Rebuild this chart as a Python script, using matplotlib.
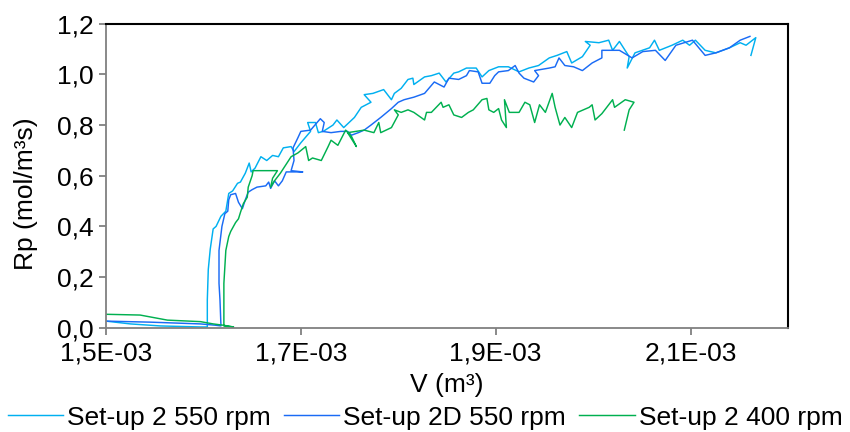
import numpy as np
import matplotlib
matplotlib.use("Agg")
import matplotlib.pyplot as plt
from matplotlib.ticker import FuncFormatter, FixedLocator, MultipleLocator

plt.rcParams['font.family'] = ['Liberation Sans', 'DejaVu Sans']

# Volumen en litros (1E-03 m3) y Rp en mol/m3s
v_2_550 = [1.500, 1.525, 1.556, 1.597, 1.604, 1.604, 1.605, 1.607, 1.610, 1.613,
           1.618, 1.623, 1.626, 1.630, 1.635, 1.638, 1.643, 1.647, 1.649, 1.653,
           1.659, 1.665, 1.671, 1.677, 1.682, 1.690, 1.693, 1.700, 1.710, 1.707,
           1.715, 1.718, 1.723, 1.733, 1.737, 1.744, 1.755, 1.762, 1.772, 1.765,
           1.774, 1.785, 1.793, 1.796, 1.803, 1.810, 1.815, 1.816, 1.827, 1.834,
           1.842, 1.849, 1.857, 1.862, 1.870, 1.880, 1.886, 1.893, 1.903, 1.913,
           1.924, 1.934, 1.944, 1.955, 1.963, 1.973, 1.978, 1.989, 1.997, 1.992,
           2.006, 2.016, 2.020, 2.027, 2.037, 2.035, 2.043, 2.058, 2.063, 2.068,
           2.081, 2.092, 2.099, 2.105, 2.115, 2.126, 2.140, 2.151, 2.157, 2.167,
           2.162]
rp_2_550 = [0.026, 0.015, 0.007, 0.003, 0.003, 0.110, 0.230, 0.310, 0.390, 0.400,
            0.440, 0.460, 0.530, 0.540, 0.570, 0.575, 0.610, 0.650, 0.615, 0.630,
            0.675, 0.660, 0.680, 0.675, 0.710, 0.715, 0.695, 0.730, 0.775, 0.810,
            0.810, 0.770, 0.775, 0.800, 0.820, 0.790, 0.830, 0.870, 0.890, 0.920,
            0.925, 0.940, 0.900, 0.925, 0.945, 0.980, 0.985, 0.960, 0.990, 0.995,
            1.005, 0.970, 1.005, 1.010, 1.025, 1.025, 0.990, 1.015, 1.030, 1.030,
            1.010, 1.025, 1.035, 1.065, 1.075, 1.090, 1.045, 1.070, 1.115, 1.130,
            1.125, 1.135, 1.095, 1.130, 1.070, 1.025, 1.085, 1.105, 1.135, 1.095,
            1.115, 1.135, 1.115, 1.135, 1.095, 1.085, 1.105, 1.125, 1.115, 1.145,
            1.075]

v_2d_550 = [1.500, 1.545, 1.597, 1.612, 1.618, 1.617, 1.616, 1.616, 1.619, 1.622,
            1.625, 1.626, 1.628, 1.633, 1.636, 1.640, 1.643, 1.646, 1.650, 1.655,
            1.664, 1.667, 1.669, 1.673, 1.677, 1.681, 1.685, 1.702, 1.690, 1.693,
            1.692, 1.697, 1.700, 1.710, 1.720, 1.724, 1.722, 1.731, 1.741, 1.748,
            1.752, 1.759, 1.765, 1.772, 1.782, 1.793, 1.800, 1.806, 1.816, 1.827,
            1.837, 1.847, 1.852, 1.862, 1.870, 1.873, 1.882, 1.886, 1.894, 1.899,
            1.903, 1.913, 1.920, 1.924, 1.929, 1.939, 1.944, 1.940, 1.955, 1.961,
            1.965, 1.971, 1.980, 1.989, 1.999, 2.009, 2.009, 2.027, 2.040, 2.051,
            2.064, 2.074, 2.085, 2.102, 2.115, 2.126, 2.140, 2.151, 2.161]
rp_2d_550 = [0.026, 0.022, 0.015, 0.010, 0.007, 0.110, 0.175, 0.305, 0.400, 0.450,
             0.460, 0.505, 0.525, 0.530, 0.495, 0.470, 0.505, 0.535, 0.545, 0.555,
             0.560, 0.575, 0.550, 0.580, 0.560, 0.580, 0.615, 0.615, 0.620, 0.660,
             0.710, 0.750, 0.775, 0.780, 0.825, 0.810, 0.775, 0.770, 0.775, 0.775,
             0.760, 0.770, 0.780, 0.800, 0.830, 0.865, 0.890, 0.900, 0.910, 0.925,
             0.970, 0.950, 0.985, 0.980, 0.995, 1.015, 1.010, 0.965, 0.965, 0.995,
             1.010, 1.015, 1.035, 1.005, 0.985, 0.970, 0.995, 1.015, 1.025, 1.030,
             1.065, 1.035, 1.030, 1.015, 1.045, 1.065, 1.095, 1.095, 1.065, 1.090,
             1.095, 1.055, 1.115, 1.135, 1.075, 1.085, 1.105, 1.135, 1.150]

v_2_400 = [1.500, 1.535, 1.563, 1.597, 1.610, 1.620, 1.631, 1.621, 1.621, 1.623,
           1.626, 1.628, 1.633, 1.636, 1.638, 1.641, 1.645, 1.646, 1.650, 1.651,
           1.676, 1.671, 1.669, 1.673, 1.679, 1.690, 1.697, 1.705, 1.708, 1.712,
           1.721, 1.728, 1.731, 1.738, 1.746, 1.752, 1.757, 1.748, 1.765, 1.775,
           1.780, 1.782, 1.793, 1.800, 1.796, 1.803, 1.810, 1.816, 1.827, 1.829,
           1.834, 1.844, 1.846, 1.852, 1.857, 1.865, 1.872, 1.877, 1.886, 1.891,
           1.893, 1.898, 1.903, 1.906, 1.911, 1.909, 1.914, 1.924, 1.930, 1.935,
           1.940, 1.945, 1.951, 1.958, 1.961, 1.966, 1.971, 1.978, 1.984, 1.996,
           1.999, 2.002, 2.009, 2.020, 2.022, 2.033, 2.042, 2.037, 2.032]
rp_2_400 = [0.053, 0.050, 0.030, 0.024, 0.015, 0.010, 0.003, 0.007, 0.175, 0.305,
            0.360, 0.380, 0.415, 0.430, 0.455, 0.490, 0.515, 0.555, 0.600, 0.620,
            0.620, 0.590, 0.555, 0.580, 0.610, 0.675, 0.690, 0.715, 0.660, 0.670,
            0.660, 0.715, 0.740, 0.720, 0.780, 0.755, 0.715, 0.770, 0.780, 0.770,
            0.810, 0.770, 0.790, 0.840, 0.860, 0.850, 0.860, 0.850, 0.820, 0.850,
            0.850, 0.890, 0.870, 0.880, 0.840, 0.830, 0.850, 0.860, 0.900, 0.905,
            0.860, 0.850, 0.865, 0.820, 0.790, 0.900, 0.850, 0.850, 0.890, 0.880,
            0.810, 0.880, 0.850, 0.925, 0.870, 0.800, 0.830, 0.790, 0.850, 0.870,
            0.880, 0.820, 0.845, 0.900, 0.870, 0.900, 0.890, 0.860, 0.780]

x_ticks = [1.5e-3, 1.7e-3, 1.9e-3, 2.1e-3]

series = [
    ("Set-up 2 550 rpm", v_2_550, rp_2_550, "#00B0F0"),
    ("Set-up 2D 550 rpm", v_2d_550, rp_2d_550, "#1A6BF5"),
    ("Set-up 2 400 rpm", v_2_400, rp_2_400, "#00B050"),
]

fig = plt.figure(figsize=(8.5, 4.32), dpi=100)
ax = fig.add_axes([0.1247, 0.2414, 0.8023, 0.7037])

for nombre, v, rp, color in series:
    ax.plot(np.array(v) / 1000, rp, color=color, lw=1.05, label=nombre)

ax.set_xlim(1.5e-3, 2.2e-3)
ax.set_ylim(0, 1.2)
ax.xaxis.set_major_locator(FixedLocator(x_ticks))
ax.xaxis.set_major_formatter(FuncFormatter(lambda x, pos: f"{x * 1e3:.1f}E-03".replace(".", ",")))
ax.yaxis.set_major_locator(MultipleLocator(0.2))
ax.yaxis.set_major_formatter(FuncFormatter(lambda y, pos: f"{y:.1f}".replace(".", ",")))

fs = 19
ax.tick_params(axis="both", labelsize=fs, direction="out", length=5, width=1.3, color="#808080")
ax.tick_params(axis="x", pad=5)
ax.tick_params(axis="y", pad=4)
for lado in ["left", "bottom"]:
    ax.spines[lado].set_color("#808080")
    ax.spines[lado].set_linewidth(1.3)
for lado in ["top", "right"]:
    ax.spines[lado].set_color("black")
    ax.spines[lado].set_linewidth(1.5)

ax.set_xlabel("V (m³)", fontsize=fs, labelpad=5)
ax.set_ylabel("Rp (mol/m³s)", fontsize=fs)
ax.yaxis.set_label_coords(-0.1, 0.44)

fig.legend(loc="lower center", bbox_to_anchor=(0.5, -0.025), ncol=3, fontsize=fs, frameon=False,
           handlelength=2.1, handletextpad=0.15, columnspacing=0.5, borderaxespad=0.1)

fig.savefig("out.png", dpi=100)
